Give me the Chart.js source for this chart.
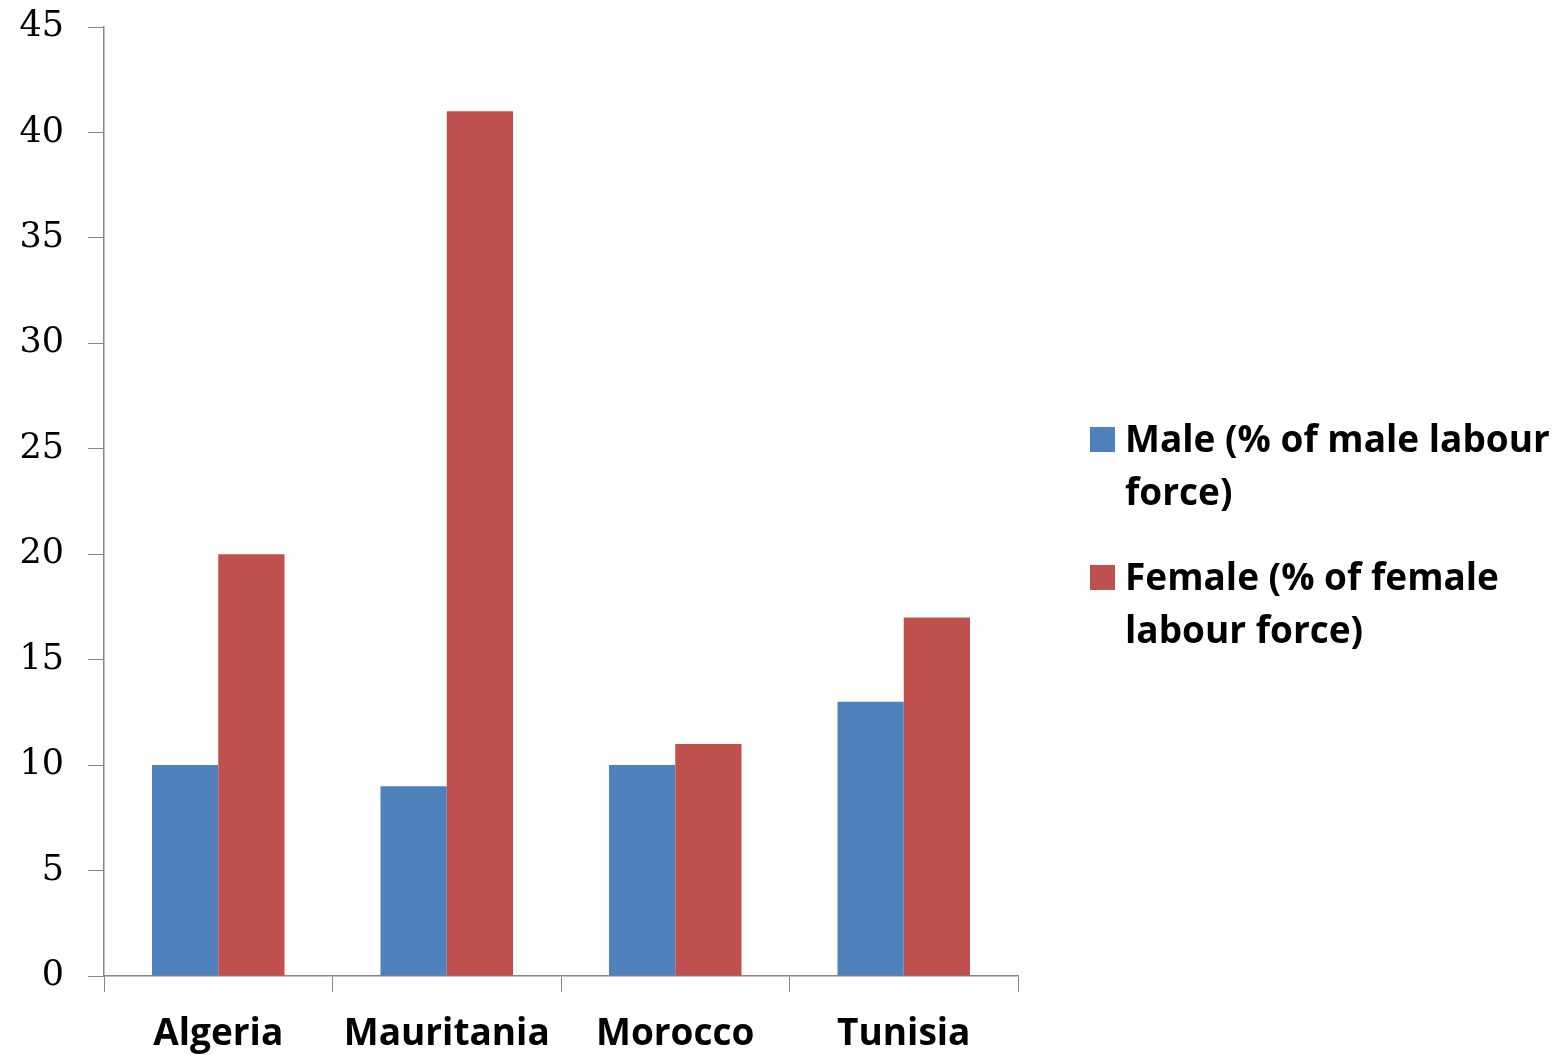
<!DOCTYPE html>
<html>
<head>
<meta charset="utf-8">
<script src="https://cdn.jsdelivr.net/npm/chart.js@4/dist/chart.umd.min.js"></script>
<style>
  html, body { margin: 0; padding: 0; background: #fff; }
  #wrap { width: 1568px; height: 1055px; }
</style>
</head>
<body>
<div id="wrap"><canvas id="bar-chart" width="1568" height="1055"></canvas></div>
<script>
const countries = ["Algeria", "Mauritania", "Morocco", "Tunisia"];
const maleValues = [10, 9, 10, 13];
const femaleValues = [20, 41, 11, 17];
const maleLabel = ["Male (% of male labour", "force)"];
const femaleLabel = ["Female (% of female", "labour force)"];
const yTicks = [0, 5, 10, 15, 20, 25, 30, 35, 40, 45];

const axisGray = "#868686";

// legend on the right, wrapped on two lines like the original
const sideLegend = {
    id: "sideLegend",
    afterDraw(chart) {
        const ctx = chart.ctx;
        const x0 = chart.chartArea.right + 72;
        let y = 452;
        ctx.save();
        ctx.font = "bold 37px 'Open Sans'";
        ctx.textBaseline = "alphabetic";
        chart.data.datasets.forEach(function (ds) {
            ctx.fillStyle = ds.backgroundColor;
            ctx.fillRect(x0, y - 25, 25, 25);
            ctx.fillStyle = "#000";
            ds.label.forEach(function (line, i) {
                ctx.fillText(line, x0 + 35, y + i * 53);
            });
            y += 138;
        });
        ctx.restore();
    }
};

new Chart(document.getElementById("bar-chart"), {
    type: "bar",
    data: {
        labels: countries,
        datasets: [{
            label: maleLabel,
            data: maleValues,
            backgroundColor: "#4F81BD"
        }, {
            label: femaleLabel,
            data: femaleValues,
            backgroundColor: "#C0504D"
        }]
    },
    options: {
        responsive: false,
        animation: false,
        layout: { padding: { top: 27, right: 550, left: 0, bottom: 0 } },
        categoryPercentage: 0.58,
        barPercentage: 1.0,
        plugins: {
            legend: { display: false },
            tooltip: { enabled: false }
        },
        scales: {
            x: {
                grid: {
                    offset: true,
                    drawOnChartArea: false,
                    drawTicks: true,
                    tickLength: 16,
                    color: axisGray
                },
                border: { color: axisGray, width: 1.5 },
                ticks: {
                    color: "#000",
                    padding: 20,
                    font: { family: "Open Sans", weight: "bold", size: 37 }
                },
                afterFit(scale) {
                    scale.height = 79;
                    scale.paddingLeft = 0;
                    scale.paddingRight = 0;
                }
            },
            y: {
                min: 0,
                max: 45,
                afterBuildTicks(scale) {
                    scale.ticks = yTicks.map(v => ({ value: v }));
                },
                grid: {
                    drawOnChartArea: false,
                    drawTicks: true,
                    tickLength: 16,
                    color: axisGray
                },
                border: { color: axisGray, width: 1.5 },
                ticks: {
                    color: "#000",
                    padding: 24,
                    font: { family: "DejaVu Serif", size: 35 }
                },
                afterFit(scale) {
                    scale.width = 104;
                    scale.paddingTop = 0;
                    scale.paddingBottom = 0;
                }
            }
        }
    },
    plugins: [sideLegend]
});
</script>
</body>
</html>
